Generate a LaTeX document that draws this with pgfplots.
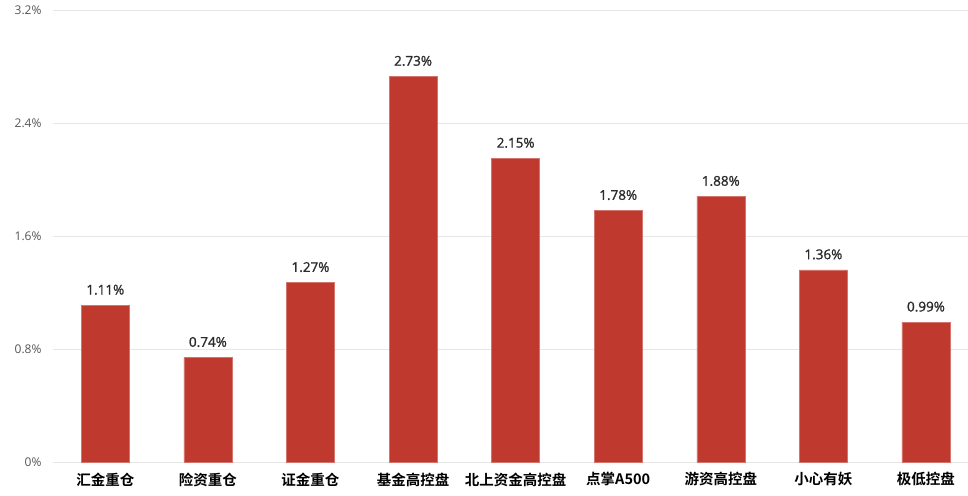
\documentclass[border=0pt]{standalone}
\usepackage{pgfplots}
\pgfplotsset{compat=1.18}
\usepackage{fontspec}
\setmainfont{Open Sans}
\newfontfamily\valfont{Open Sans}[FakeBold=1.2]
\newfontfamily\cjk{Noto Sans CJK SC}[BoldFont={Noto Sans CJK SC Bold}]
\definecolor{barred}{HTML}{C0392F}
\definecolor{gridgray}{HTML}{E6E6E6}
\definecolor{ticktext}{HTML}{555555}
\definecolor{valtext}{HTML}{2B2B2B}

\begin{document}
\begin{tikzpicture}
	\begin{axis}[
		scale only axis,
		width=915bp,
		height=452bp,
		xmin=-0.51, xmax=8.41,
		ymin=0, ymax=3.2,
		ytick={0,0.8,1.6,2.4,3.2},
		yticklabels={0\%,0.8\%,1.6\%,2.4\%,3.2\%},
		xtick={0,1,2,3,4,5,6,7,8},
		xticklabels={汇金重仓,险资重仓,证金重仓,基金高控盘,北上资金高控盘,点掌A500,游资高控盘,小心有妖,极低控盘},
		xticklabel style={font=\cjk\bfseries\fontsize{14.5bp}{16bp}\selectfont, text=black, yshift=-7bp},
		yticklabel style={font=\fontsize{12bp}{13bp}\selectfont, text=ticktext, xshift=-8bp},
		axis line style={draw=none},
		major tick style={draw=none},
		ymajorgrids,
		major grid style={gridgray, line width=0.8bp},
		clip=false,
		]
		\addplot[ybar, bar width=48bp, fill=barred, draw=barred!70!white, line width=0.4bp,
			point meta=explicit symbolic,
			nodes near coords={\pgfplotspointmeta\%},
			nodes near coords style={font=\valfont\fontsize{13.5bp}{15bp}\selectfont, text=valtext, anchor=south, yshift=7bp}]
			coordinates {(0,1.11)[1.11] (1,0.74)[0.74] (2,1.27)[1.27] (3,2.73)[2.73] (4,2.15)[2.15]
				(5,1.78)[1.78] (6,1.88)[1.88] (7,1.36)[1.36] (8,0.99)[0.99]};
	\end{axis}
	\pgfresetboundingbox
	\path ([xshift=-53bp,yshift=-34bp]current axis.south west) rectangle ([yshift=10bp]current axis.north east);
\end{tikzpicture}
\end{document}
